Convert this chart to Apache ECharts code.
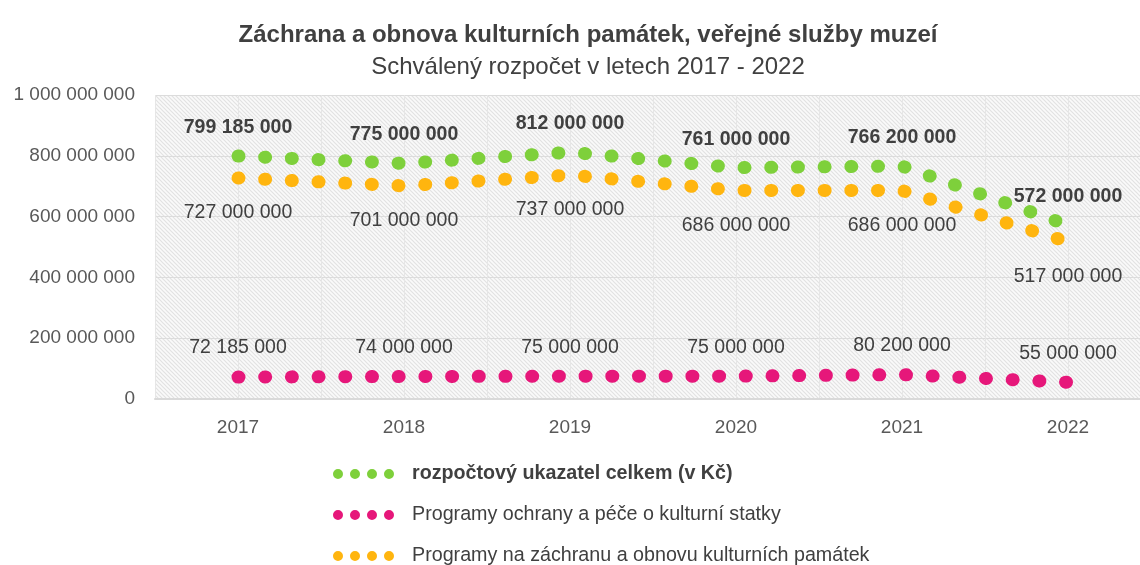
<!DOCTYPE html>
<html>
<head>
<meta charset="utf-8">
<script src="https://cdn.jsdelivr.net/npm/echarts@6/dist/echarts.min.js"></script>
<style>
html, body { margin: 0; padding: 0; background: #fff; }
#main { width: 1140px; height: 565px; }
</style>
</head>
<body>
<div id="main"></div>
<script>
var years = ['2017', '2018', '2019', '2020', '2021', '2022'];
var celkem = [799185000, 775000000, 812000000, 761000000, 766200000, 572000000];
var ochrana = [72185000, 74000000, 75000000, 75000000, 80200000, 55000000];
var zachrana = [727000000, 701000000, 737000000, 686000000, 686000000, 517000000];
var names = [
    'rozpočtový ukazatel celkem (v Kč)',
    'Programy ochrany a péče o kulturní statky',
    'Programy na záchranu a obnovu kulturních památek'
];
var colors = ['#7ED03B', '#E6177A', '#FFB50F'];

var FONT = "'Liberation Sans Narrow', 'Arial Narrow', 'Liberation Sans', Arial, sans-serif";

function fmt(v) {
    return String(v).replace(/\B(?=(\d{3})+(?!\d))/g, ' ');
}

// hatch pattern for plot background
function hatch() {
    var c = document.createElement('canvas');
    c.width = 4; c.height = 4;
    var ctx = c.getContext('2d');
    ctx.fillStyle = '#fafafa';
    ctx.fillRect(0, 0, 4, 4);
    ctx.strokeStyle = '#e2e2e2';
    ctx.lineWidth = 1.2;
    for (var k = -4; k <= 4; k += 4) {
        ctx.beginPath();
        ctx.moveTo(k - 1, -1);
        ctx.lineTo(k + 5, 5);
        ctx.stroke();
    }
    return c;
}

// four dots for legend icon
var dots = 'path://M0,5a5,5 0 1,0 10,0a5,5 0 1,0 -10,0M17,5a5,5 0 1,0 10,0a5,5 0 1,0 -10,0M34,5a5,5 0 1,0 10,0a5,5 0 1,0 -10,0M51,5a5,5 0 1,0 10,0a5,5 0 1,0 -10,0';

function lineSeries(name, data, color, pos, bold, dist) {
    return {
        name: name,
        type: 'line',
        data: data,
        symbol: 'circle',
        symbolSize: 1,
        itemStyle: { color: 'rgba(0,0,0,0)' },
        lineStyle: { color: color, width: 13, type: [1, 25.7], cap: 'round' },
        label: {
            show: true,
            position: pos,
            distance: dist,
            color: '#404040',
            fontFamily: FONT,
            fontSize: 19.5,
            fontWeight: bold ? 'bold' : 'normal',
            formatter: function (p) { return fmt(p.value); }
        },
        emphasis: { disabled: true },
        z: 3
    };
}

var myChart = echarts.init(document.getElementById('main'));
var option = {
    animation: false,
    color: colors,
    title: {
        text: 'Záchrana a obnova kulturních památek, veřejné služby muzeí',
        subtext: 'Schválený rozpočet v letech 2017 - 2022',
        left: 583,
        textAlign: 'center',
        top: 18,
        itemGap: 8,
        textStyle: { fontFamily: FONT, fontSize: 24, fontWeight: 'bold', color: '#404040' },
        subtextStyle: { fontFamily: FONT, fontSize: 24, color: '#404040' }
    },
    legend: {
        orient: 'vertical',
        left: 328,
        top: 458,
        height: 120,
        itemWidth: 61,
        itemHeight: 10,
        itemGap: 19,
        icon: dots,
        textStyle: { fontFamily: FONT, fontSize: 19.7, color: '#404040', padding: [0, 0, 0, 13], lineHeight: 22 },
        data: [
            { name: names[0], itemStyle: { color: colors[0] }, textStyle: { fontWeight: 'bold' } },
            { name: names[1], itemStyle: { color: colors[1] } },
            { name: names[2], itemStyle: { color: colors[2] } }
        ]
    },
    grid: {
        left: 155,
        right: -11,
        top: 95,
        bottom: 166,
        outerBoundsMode: 'none',
        containLabel: false,
        show: true,
        borderWidth: 0,
        backgroundColor: { image: hatch(), repeat: 'repeat' }
    },
    xAxis: [
        {
            type: 'category',
            data: years,
            axisLine: { lineStyle: { color: '#d9d9d9', width: 2 } },
            axisTick: { show: false },
            axisLabel: { color: '#595959', fontFamily: FONT, fontSize: 19, margin: 19 },
            splitLine: { show: false }
        },
        {
            type: 'value',
            min: 0,
            max: 12,
            interval: 1,
            show: true,
            axisLine: { show: false },
            axisTick: { show: false },
            axisLabel: { show: false },
            splitLine: { show: true, lineStyle: { color: '#e6e6e6', width: 1 } }
        }
    ],
    yAxis: {
        type: 'value',
        min: 0,
        max: 1000000000,
        interval: 200000000,
        axisLine: { show: false },
        axisTick: { show: false },
        axisLabel: {
            color: '#595959', fontFamily: FONT, fontSize: 19, margin: 20,
            formatter: function (v) { return fmt(v); }
        },
        splitLine: { lineStyle: { color: '#dcdcdc', width: 1 } }
    },
    series: [
        lineSeries(names[0], celkem, colors[0], 'top', true, 18),
        lineSeries(names[1], ochrana, colors[1], 'top', false, 18.5),
        lineSeries(names[2], zachrana, colors[2], 'bottom', false, 24.5)
    ]
};
myChart.setOption(option);
</script>
</body>
</html>
